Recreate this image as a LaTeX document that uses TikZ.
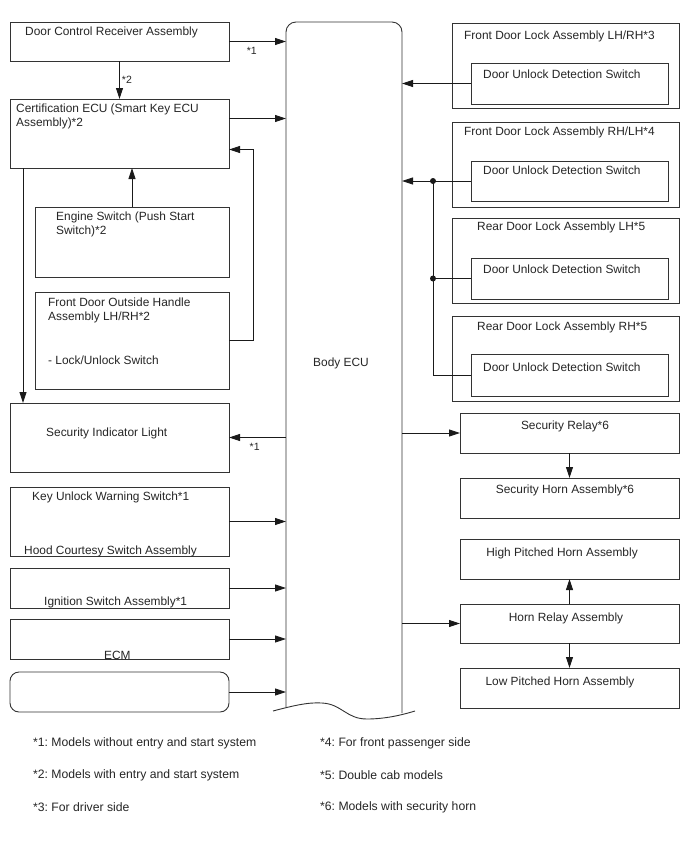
\documentclass[tikz,border=0pt]{standalone}
\usepackage{fontspec}
\setmainfont{Liberation Sans}
\usepackage{xcolor}
\usepackage{tikz}
\usetikzlibrary{arrows.meta,calc,positioning}
\definecolor{wire}{HTML}{1A1A1A}
\definecolor{frame}{HTML}{333333}
\frenchspacing
\tikzset{
  unit/.style={
    draw=frame,
    line width=0.9pt,
    fill=white,
    inner sep=0pt,
    outer sep=0pt,
    anchor=north west
  },
  softunit/.style={unit, rounded corners=9pt},
  txt/.style={font=\fontsize{11.9}{14}\selectfont, inner sep=0pt, anchor=west, text=black!85},
  ctxt/.style={txt, anchor=center},
  note/.style={txt, font=\fontsize{12.2}{14}\selectfont},
  tag/.style={font=\fontsize{10.5}{12}\selectfont, inner sep=0pt, text=black!85},
  wireline/.style={draw=wire, line width=0.9pt},
  arr/.style={wireline, -{Triangle[length=11pt,width=7pt]}},
  joint/.style={circle, fill=wire, inner sep=0pt, minimum size=6pt}
}

\begin{document}
\begin{tikzpicture}[x=1pt,y=-1pt]
\useasboundingbox[fill=white] (0,0) rectangle (688,852);

% left column
\node[unit, minimum width=219pt, minimum height=39pt] (dcr) at (10,22) {};
\node[txt] (dcrT) at (25,32) {Door Control Receiver Assembly};
\node[unit, minimum width=219pt, minimum height=69pt] (cert) at (10,99) {};
\node[txt] (certT) at (16,109) {Certification ECU (Smart Key ECU};
\node[txt] (certT2) at (16,123) {Assembly)*2};
\node[unit, minimum width=194pt, minimum height=70pt] (eng) at (35,207) {};
\node[txt] (engT) at (56,217) {Engine Switch (Push Start};
\node[txt] (engT2) at (56,231) {Switch)*2};
\node[unit, minimum width=194pt, minimum height=97pt] (fdh) at (35,292) {};
\node[txt] (fdhT) at (48,302) {Front Door Outside Handle};
\node[txt] (fdhT2) at (48,317) {Assembly LH/RH*2};
\node[txt] (fdhT3) at (48,360) {- Lock/Unlock Switch};
\node[unit, minimum width=219pt, minimum height=69pt] (sil) at (10,403) {};
\node[txt] (silT) at (46,433) {Security Indicator Light};
\node[unit, minimum width=219pt, minimum height=69pt] (kuw) at (10,487) {};
\node[txt] (kuwT) at (32,497) {Key Unlock Warning Switch*1};
\node[txt] (hoodT) at (24,551) {Hood Courtesy Switch Assembly};
\node[unit, minimum width=219pt, minimum height=40pt] (ign) at (10,568) {};
\node[txt] (ignT) at (44,602) {Ignition Switch Assembly*1};
\node[unit, minimum width=219pt, minimum height=40pt] (ecm) at (10,619) {};
\node[txt] (ecmT) at (104,655) {ECM};
\node[softunit, minimum width=219pt, minimum height=40pt] (blank) at (10,672) {};

% body ECU
\node[inner sep=0pt, outer sep=0pt, minimum width=116pt, minimum height=688pt, anchor=north west] (ecu) at (286,22) {};
\draw[wireline, draw=frame, rounded corners=10pt] (ecu.west |- 0,707) -- (ecu.north west) -- (ecu.north east) -- (ecu.east |- 0,713);
\draw[wireline, draw=frame] (273,711) .. controls (292,706) and (308,702) .. (322,703)
  .. controls (342,704) and (346,719) .. (367,719) .. controls (385,719) and (402,715) .. (415,711);
\node[txt] (ecuT) at (313,363) {Body ECU};

% door lock assemblies
\node[unit, minimum width=227pt, minimum height=85pt] (fdl3) at (452,23) {};
\node[txt] (fdl3T) at (464,36) {Front Door Lock Assembly LH/RH*3};
\node[unit, minimum width=197pt, minimum height=41pt] (sw3) at (471,63) {};
\node[txt] (sw3T) at (483,74) {Door Unlock Detection Switch};
\node[unit, minimum width=227pt, minimum height=85pt] (fdl4) at (452,122) {};
\node[txt] (fdl4T) at (464,132) {Front Door Lock Assembly RH/LH*4};
\node[unit, minimum width=197pt, minimum height=40pt] (sw4) at (471,161) {};
\node[txt] (sw4T) at (483,170) {Door Unlock Detection Switch};
\node[unit, minimum width=227pt, minimum height=85pt] (rdl) at (452,218) {};
\node[txt] (rdlT) at (477,227) {Rear Door Lock Assembly LH*5};
\node[unit, minimum width=197pt, minimum height=41pt] (swl) at (471,258) {};
\node[txt] (swlT) at (483,269) {Door Unlock Detection Switch};
\node[unit, minimum width=227pt, minimum height=85pt] (rdr) at (452,316) {};
\node[txt] (rdrT) at (477,327) {Rear Door Lock Assembly RH*5};
\node[unit, minimum width=197pt, minimum height=42pt] (swr) at (471,354) {};
\node[txt] (swrT) at (483,367) {Door Unlock Detection Switch};

% horn side
\node[unit, minimum width=219pt, minimum height=40pt] (secrel) at (460,413) {};
\node[ctxt] (secrelT) at (565,426) {Security Relay*6};
\node[unit, minimum width=219pt, minimum height=40pt] (sechorn) at (460,478) {};
\node[ctxt] (sechornT) at (565,490) {Security Horn Assembly*6};
\node[unit, minimum width=219pt, minimum height=40pt] (high) at (460,539) {};
\node[ctxt] (highT) at (562,553) {High Pitched Horn Assembly};
\node[unit, minimum width=219pt, minimum height=39pt] (hornrel) at (460,604) {};
\node[ctxt] (hornrelT) at (566,618) {Horn Relay Assembly};
\node[unit, minimum width=219pt, minimum height=40pt] (low) at (460,668) {};
\node[ctxt] (lowT) at (560,682) {Low Pitched Horn Assembly};

% connectors, left
\draw[arr] (dcr.east) -- (dcr.east -| ecu.west) node[tag, pos=0.4, below=5pt] {*1};
\draw[arr] (dcr.south) -- (cert.north) node[tag, midway, right=2pt] {*2};
\draw[arr] ([yshift=15pt]cert.east) -- ([yshift=15pt]cert.east -| ecu.west);
\draw[arr] (eng.north) -- (eng.north |- cert.south);
\draw[arr] (fdh.east) -- ++(24,0) |- ([yshift=-16pt]cert.east);
\draw[arr] ([xshift=13pt]cert.south west) -- ([xshift=13pt]sil.north west);
\draw[arr] (sil.east -| ecu.west) -- (sil.east) node[tag, pos=0.55, below=5pt] {*1};
\draw[arr] (kuw.east) -- (kuw.east -| ecu.west);
\draw[arr] (ign.east) -- (ign.east -| ecu.west);
\draw[arr] (ecm.east) -- (ecm.east -| ecu.west);
\draw[arr] (blank.east) -- (blank.east -| ecu.west);

% connectors, right
\coordinate (bus) at (433,0);
\draw[arr] (sw3.west) -- (sw3.west -| ecu.east);
\draw[arr] (sw4.west) -- (sw4.west -| ecu.east);
\draw[wireline] (swr.west) -- (swr.west -| bus) -- (sw4.west -| bus);
\draw[wireline] (swl.west) -- (swl.west -| bus);
\node[joint] (j4) at (sw4.west -| bus) {};
\node[joint] (jl) at (swl.west -| bus) {};
\draw[arr] (secrel.west -| ecu.east) -- (secrel.west);
\draw[arr] (secrel.south) -- (sechorn.north);
\draw[arr] (hornrel.west -| ecu.east) -- (hornrel.west);
\draw[arr] (hornrel.north) -- (high.south);
\draw[arr] (hornrel.south) -- (low.north);

% footnotes
\node[note] (n1) at (33,743) {*1: Models without entry and start system};
\node[note] (n2) at (33,775) {*2: Models with entry and start system};
\node[note] (n3) at (33,807) {*3: For driver side};
\node[note] (n4) at (320,743) {*4: For front passenger side};
\node[note] (n5) at (320,775) {*5: Double cab models};
\node[note] (n6) at (320,807) {*6: Models with security horn};
\end{tikzpicture}
\end{document}
